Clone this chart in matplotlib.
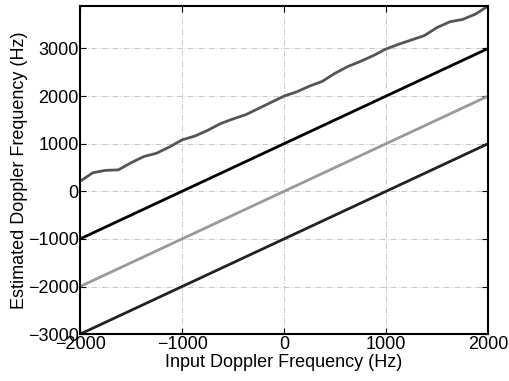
import matplotlib.pyplot as plt
import numpy as np

plt.rcParams['font.family'] = ['Liberation Sans', 'DejaVu Sans']

# input doppler frequency (Hz)
f_in = [-2000, -1875, -1750, -1625, -1500, -1375, -1250, -1125, -1000, -875,
        -750, -625, -500, -375, -250, -125, 0, 125, 250, 375, 500, 625, 750,
        875, 1000, 1125, 1250, 1375, 1500, 1625, 1750, 1875, 2000]
# estimated frequency, wavy curve
f_wavy = [210, 390, 440, 450, 600, 730, 800, 930, 1080, 1160, 1280, 1420,
          1520, 1610, 1740, 1870, 2000, 2090, 2210, 2310, 2480, 2620, 2730,
          2850, 2990, 3090, 3180, 3270, 3440, 3560, 3610, 3720, 3890]
x_lin = [-2000, 2000]
f_plus = [-1000, 3000]
f_zero = [-2000, 2000]
f_minus = [-3000, 1000]

fig = plt.figure(figsize=(5.1, 3.81), dpi=100)
ax = fig.add_axes([0.157, 0.123, 0.8, 0.861])

ax.plot(f_in, f_wavy, color='#555555', lw=2, solid_joinstyle='round')
ax.plot(x_lin, f_plus, color='#000000', lw=2)
ax.plot(x_lin, f_zero, color='#999999', lw=2)
ax.plot(x_lin, f_minus, color='#222222', lw=2)

ax.set_xlim(-2000, 2000)
ax.set_ylim(-3000, 3890)
ax.set_xticks([-2000, -1000, 0, 1000, 2000])
ax.set_yticks([-3000, -2000, -1000, 0, 1000, 2000, 3000])
ax.grid(True, color='#c8c8c8', linestyle=(0, (6, 2, 1, 2)), lw=0.7)
ax.tick_params(direction='in', top=True, right=True, labelsize=13, length=4)
ax.tick_params(axis='x', pad=1)
ax.tick_params(axis='y', pad=1)
for s in ax.spines.values():
    s.set_linewidth(1.5)
ax.set_xlabel('Input Doppler Frequency (Hz)', fontsize=13, labelpad=1)
ax.set_ylabel('Estimated Doppler Frequency (Hz)', fontsize=13, labelpad=0)

fig.savefig('out.png', dpi=100)
